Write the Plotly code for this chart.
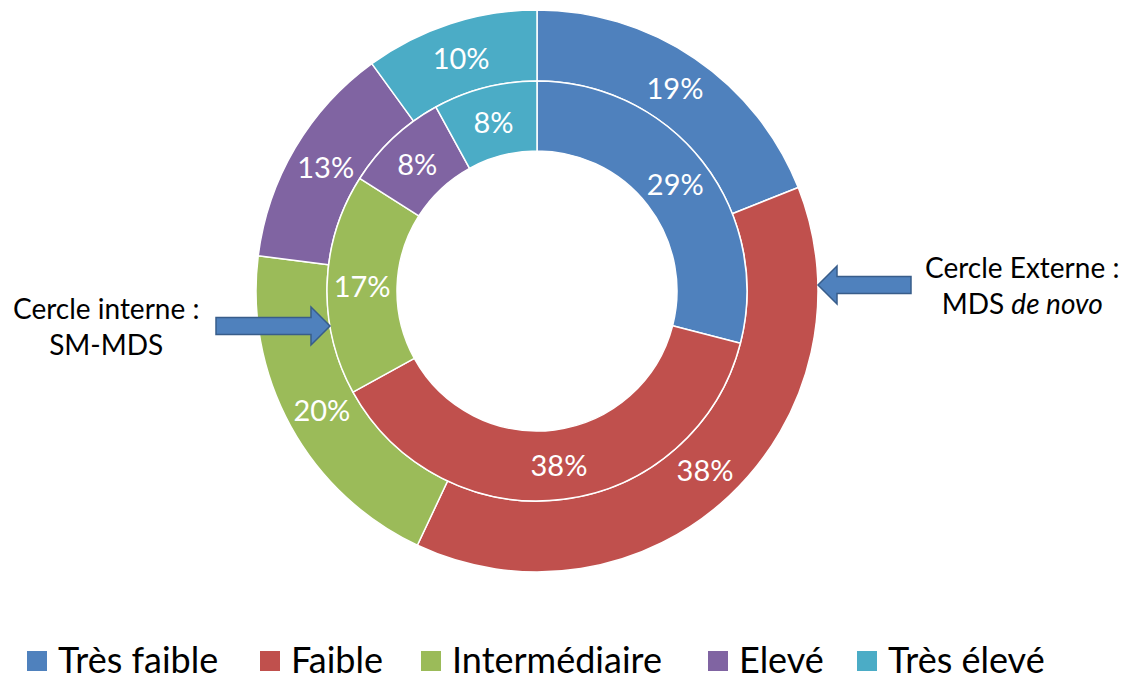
import plotly.graph_objects as go

categories = ["Très faible", "Faible", "Intermédiaire", "Elevé", "Très élevé"]
outer_values = [19, 38, 20, 13, 10]   # MDS de novo
inner_values = [29, 38, 17, 8, 8]     # SM-MDS
colors = ["#4F81BD", "#C0504D", "#9BBB59", "#8064A2", "#4BACC6"]

W, H = 1130, 682
FONT = "Lato"
cx, cy = 537, 291          # centre in pixels (from top)
r_out, r_mid, r_in = 281, 210, 140


def dom(r):
    return dict(x=[(cx - r) / W, (cx + r) / W],
                y=[(H - cy - r) / H, (H - cy + r) / H])


fig = go.Figure()
fig.add_trace(go.Pie(
    labels=categories, values=outer_values, sort=False, direction="clockwise",
    rotation=0, hole=r_mid / r_out, domain=dom(r_out),
    marker=dict(colors=colors, line=dict(color="white", width=1.5)),
    texttemplate="%{value}%", textposition="inside",
    insidetextorientation="horizontal",
    textfont=dict(family=FONT, size=29, color="white"),
    showlegend=False, hoverinfo="label+value"))
fig.add_trace(go.Pie(
    labels=categories, values=inner_values, sort=False, direction="clockwise",
    rotation=0, hole=r_in / r_mid, domain=dom(r_mid),
    marker=dict(colors=colors, line=dict(color="white", width=1.5)),
    texttemplate="%{value}%", textposition="inside",
    insidetextorientation="horizontal",
    textfont=dict(family=FONT, size=29, color="white"),
    showlegend=False, hoverinfo="label+value"))

shapes = []


def arrow(x_tail, x_tip, y, shaft=8.5, head=19, head_len=19):
    s = 1 if x_tip > x_tail else -1
    xb = x_tip - s * head_len
    pts = [(x_tail, y - shaft), (xb, y - shaft), (xb, y - head), (x_tip, y),
           (xb, y + head), (xb, y + shaft), (x_tail, y + shaft)]
    path = "M" + " L".join(f"{px / W},{1 - py / H}" for px, py in pts) + " Z"
    return dict(type="path", xref="paper", yref="paper", path=path,
                fillcolor="#4F81BD", line=dict(color="#385D8A", width=1.5))


shapes.append(arrow(216, 330, 326))
shapes.append(arrow(911, 818, 285))

annotations = [
    dict(x=106 / W, y=1 - 326 / H, xref="paper", yref="paper",
         text="Cercle interne :<br>SM-MDS", showarrow=False,
         font=dict(family=FONT, size=28, color="black"), align="center",
         xanchor="center", yanchor="middle"),
    dict(x=1022 / W, y=1 - 285 / H, xref="paper", yref="paper",
         text="Cercle Externe :<br>MDS <i>de novo</i>", showarrow=False,
         font=dict(family=FONT, size=28, color="black"), align="center",
         xanchor="center", yanchor="middle"),
]

# manual legend
legend_sq_x = [27, 260, 421, 708, 857]
legend_y = 659
sq = 20
for lx, lab, col in zip(legend_sq_x, categories, colors):
    shapes.append(dict(type="rect", xref="paper", yref="paper",
                       x0=lx / W, x1=(lx + sq) / W,
                       y0=1 - (legend_y + 2 + sq / 2) / H, y1=1 - (legend_y + 2 - sq / 2) / H,
                       fillcolor=col, line=dict(width=0)))
    annotations.append(dict(x=(lx + sq + 10) / W, y=1 - legend_y / H,
                            xref="paper", yref="paper", text=lab, showarrow=False,
                            xanchor="left", yanchor="middle", borderpad=0,
                            font=dict(family=FONT, size=36, color="black")))

fig.update_layout(
    width=W, height=H, margin=dict(l=0, r=0, t=0, b=0),
    paper_bgcolor="white", plot_bgcolor="white",
    shapes=shapes, annotations=annotations, showlegend=False,
)

fig.write_html("out.html", config={"displayModeBar": False},
               post_script="document.body.style.margin='0';document.body.style.overflow='hidden';")
